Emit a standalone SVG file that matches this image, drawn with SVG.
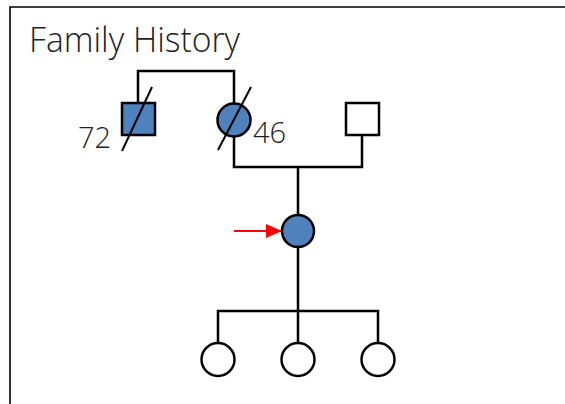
<svg xmlns="http://www.w3.org/2000/svg" width="565" height="404" viewBox="0 0 565 404">
  <style>
    .frame { fill: none; stroke: #000; stroke-width: 1.6; }
    .line { fill: none; stroke: #000; stroke-width: 2.5; }
    .affected { fill: #4F81BD; stroke: #000; stroke-width: 2.5; }
    .unaffected { fill: #fff; stroke: #000; stroke-width: 2.5; }
    .deceased { stroke: #000; stroke-width: 2; }
    .label { font-family: "Open Sans", "Liberation Sans", sans-serif; font-weight: 300; fill: #222; }
  </style>
  <defs>
    <marker id="arrowhead" viewBox="0 0 10 10" refX="10" refY="5" markerWidth="16" markerHeight="14" markerUnits="userSpaceOnUse" orient="auto" preserveAspectRatio="none">
      <path d="M0,0 L10,5 L0,10 z" fill="#FF0000"/>
    </marker>
  </defs>
  <rect width="565" height="404" fill="#fff"/>
  <!-- panel frame (open to the right and bottom) -->
  <path class="frame" d="M10,404 V7 H565"/>
  <text class="label" x="29" y="52" font-size="34" textLength="211" lengthAdjust="spacingAndGlyphs">Family History</text>

  <g id="connectors">
    <!-- grandparents mating line -->
    <path class="line" d="M138,103 V71 H234 V103"/>
    <!-- parents mating line -->
    <path class="line" d="M234,137 V167 H362 V135"/>
    <!-- descent to proband -->
    <path class="line" d="M298,167 V215"/>
    <!-- sibship line to children -->
    <path class="line" d="M298,247 V343 M218,343 V311 H378 V343"/>
    <!-- proband pointer -->
    <line x1="234" y1="231" x2="282" y2="231" stroke="#FF0000" stroke-width="2" marker-end="url(#arrowhead)"/>
  </g>

  <g id="grandfather">
    <rect class="affected" x="122" y="103" width="33" height="32"/>
    <line class="deceased" x1="152" y1="87" x2="122" y2="151"/>
    <text class="label" x="78" y="148" font-size="29">72</text>
  </g>

  <g id="grandmother">
    <circle class="affected" cx="234" cy="120" r="16.5"/>
    <line class="deceased" x1="251" y1="87" x2="218" y2="150"/>
    <text class="label" x="253" y="143" font-size="29">46</text>
  </g>

  <g id="father">
    <rect class="unaffected" x="346" y="103" width="33" height="32"/>
  </g>

  <g id="proband">
    <circle class="affected" cx="298" cy="231" r="16"/>
  </g>

  <g id="child1">
    <circle class="unaffected" cx="218" cy="359.5" r="16.5"/>
  </g>
  <g id="child2">
    <circle class="unaffected" cx="298" cy="359.5" r="16.5"/>
  </g>
  <g id="child3">
    <circle class="unaffected" cx="378" cy="359.5" r="16.5"/>
  </g>
</svg>
